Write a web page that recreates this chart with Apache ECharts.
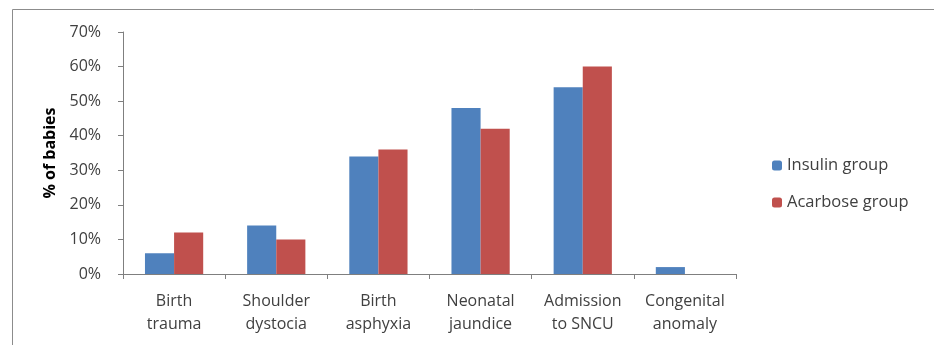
<!DOCTYPE html>
<html><head><meta charset="utf-8">
<script src="https://cdn.jsdelivr.net/npm/echarts@6/dist/echarts.min.js"></script>
<style>html,body{margin:0;padding:0;background:#fff}#c{width:934px;height:345px}</style>
</head><body><div id="c"></div>
<script>
const categories = ["Birth\ntrauma", "Shoulder\ndystocia", "Birth\nasphyxia", "Neonatal\njaundice", "Admission\nto SNCU", "Congenital\nanomaly"];
const insulin = [6, 14, 34, 48, 54, 2];
const acarbose = [12, 10, 36, 42, 60, 0];
const seriesNames = ["Insulin group", "Acarbose group"];
const yTicks = [0, 10, 20, 30, 40, 50, 60, 70];

const font = "Open Sans";
const chart = echarts.init(document.getElementById('c'));
chart.setOption({
  backgroundColor: '#fff',
  animation: false,
  graphic: [{type: 'rect', shape: {x: 12.5, y: 9.5, width: 1000, height: 400}, style: {fill: 'none', stroke: '#8c8c8c', lineWidth: 1}, silent: true}],
  grid: {left: 123, top: 32, right: 198, bottom: 71},
  legend: {
    orient: 'vertical', left: 767, top: 152, itemWidth: 10, itemHeight: 10, itemGap: 20,
    textStyle: {fontFamily: font, fontSize: 16.5, color: '#404040'},
    data: seriesNames
  },
  xAxis: {
    type: 'category', data: categories,
    axisLine: {lineStyle: {color: '#7f7f7f'}},
    axisTick: {show: true, length: 5, lineStyle: {color: '#7f7f7f'}},
    axisLabel: {interval: 0, hideOverlap: false, fontFamily: font, fontSize: 16, color: '#404040', lineHeight: 23, margin: 16}
  },
  yAxis: {
    type: 'value', min: yTicks[0], max: yTicks[yTicks.length - 1], interval: 10,
    name: '% of babies', nameLocation: 'middle', nameGap: 60,
    nameTextStyle: {fontFamily: font, fontSize: 16, fontWeight: 'bold', color: '#000'},
    axisLine: {show: true, lineStyle: {color: '#7f7f7f'}},
    axisTick: {show: true, length: 5, lineStyle: {color: '#7f7f7f'}},
    splitLine: {show: false},
    axisLabel: {fontFamily: font, fontSize: 16, color: '#404040', margin: 22, formatter: v => v + '%'}
  },
  series: [
    {name: seriesNames[0], type: 'bar', data: insulin, barGap: '0%', barCategoryGap: '43%',
     itemStyle: {color: '#4F81BD'}},
    {name: seriesNames[1], type: 'bar', data: acarbose,
     itemStyle: {color: '#C0504D'}}
  ]
});
</script></body></html>
